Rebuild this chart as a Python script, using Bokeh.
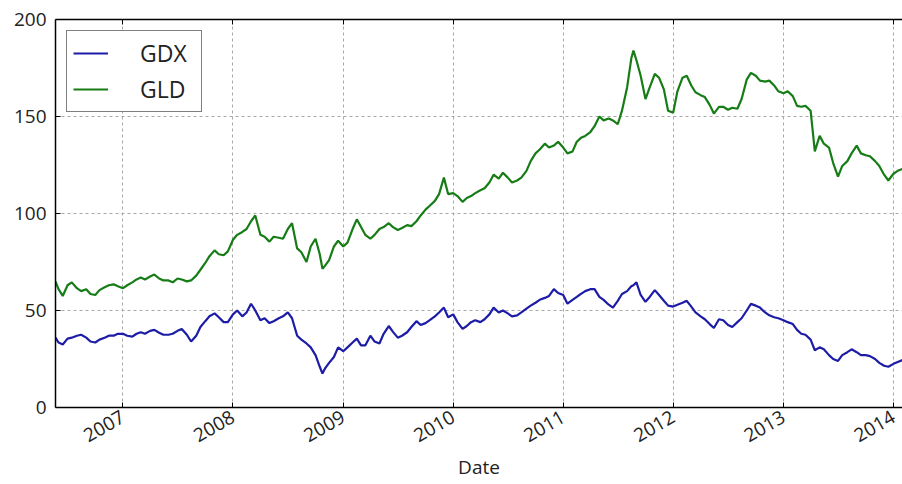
import math
import datetime as dtm
import pandas as pd
from bokeh.plotting import figure
from bokeh.models import (Range1d, FixedTicker, DatetimeTickFormatter, DatetimeAxis,
                          Legend, LegendItem, ColumnDataSource, CustomJSTickFormatter)
from bokeh.embed import file_html
from bokeh.resources import INLINE

# ---------------- data ----------------
dates = [
    "2006-05-22", "2006-06-01", "2006-06-15", "2006-07-01", "2006-07-15", "2006-08-01", "2006-08-15",
    "2006-09-01", "2006-09-15", "2006-10-01", "2006-10-15", "2006-11-01", "2006-11-15", "2006-12-01", "2006-12-15",
    "2007-01-01", "2007-01-15", "2007-02-01", "2007-02-15", "2007-03-01", "2007-03-15", "2007-04-01", "2007-04-15",
    "2007-05-01", "2007-05-15", "2007-06-01", "2007-06-15", "2007-07-01", "2007-07-15", "2007-08-01", "2007-08-15",
    "2007-09-01", "2007-09-15", "2007-10-01", "2007-10-15", "2007-11-01", "2007-11-15", "2007-12-01", "2007-12-15",
    "2008-01-01", "2008-01-15", "2008-02-01", "2008-02-15", "2008-03-01", "2008-03-15", "2008-04-01", "2008-04-15",
    "2008-05-01", "2008-05-15", "2008-06-01", "2008-06-15", "2008-07-01", "2008-07-15", "2008-08-01", "2008-08-15",
    "2008-09-01", "2008-09-15", "2008-10-01", "2008-10-15", "2008-10-24", "2008-11-01", "2008-11-15", "2008-12-01", "2008-12-15",
    "2009-01-01", "2009-01-15", "2009-02-01", "2009-02-15", "2009-03-01", "2009-03-15", "2009-04-01", "2009-04-15",
    "2009-05-01", "2009-05-15", "2009-06-01", "2009-06-15", "2009-07-01", "2009-07-15", "2009-08-01", "2009-08-15",
    "2009-09-01", "2009-09-15", "2009-10-01", "2009-10-15", "2009-11-01", "2009-11-15", "2009-12-01", "2009-12-15",
    "2010-01-01", "2010-01-15", "2010-02-01", "2010-02-15", "2010-03-01", "2010-03-15", "2010-04-01", "2010-04-15",
    "2010-05-01", "2010-05-15", "2010-06-01", "2010-06-15", "2010-07-01", "2010-07-15", "2010-08-01", "2010-08-15",
    "2010-09-01", "2010-09-15", "2010-10-01", "2010-10-15", "2010-11-01", "2010-11-15", "2010-12-01", "2010-12-15",
    "2011-01-01", "2011-01-15", "2011-02-01", "2011-02-15", "2011-03-01", "2011-03-15", "2011-04-01", "2011-04-15",
    "2011-05-01", "2011-05-15", "2011-06-01", "2011-06-15", "2011-07-01", "2011-07-15", "2011-08-01", "2011-08-15",
    "2011-08-22", "2011-09-01", "2011-09-15", "2011-10-01", "2011-10-15", "2011-11-01", "2011-11-15", "2011-12-01", "2011-12-15",
    "2012-01-01", "2012-01-15", "2012-02-01", "2012-02-15", "2012-03-01", "2012-03-15", "2012-04-01", "2012-04-15",
    "2012-05-01", "2012-05-15", "2012-06-01", "2012-06-15", "2012-07-01", "2012-07-15", "2012-08-01", "2012-08-15",
    "2012-09-01", "2012-09-15", "2012-10-01", "2012-10-15", "2012-11-01", "2012-11-15", "2012-12-01", "2012-12-15",
    "2013-01-01", "2013-01-15", "2013-02-01", "2013-02-15", "2013-03-01", "2013-03-15", "2013-04-01", "2013-04-15",
    "2013-05-01", "2013-05-15", "2013-06-01", "2013-06-15", "2013-07-01", "2013-07-15", "2013-08-01", "2013-08-15",
    "2013-09-01", "2013-09-15", "2013-10-01", "2013-10-15", "2013-11-01", "2013-11-15", "2013-12-01", "2013-12-15",
    "2014-01-01", "2014-01-15", "2014-02-01", "2014-02-15",
]

gld = [
    65, 61, 57.5, 63, 64.5, 61.5, 60, 61, 58.5, 58, 60.5, 62, 63, 63.5, 62.5,
    61.5, 63, 64.5, 66, 67, 66, 67.5, 68.5, 66.5, 65.5, 65.5, 64.5, 66.5, 66, 65, 65.5,
    68, 71, 74.5, 78, 81, 79, 78.5, 80.5,
    86.5, 89, 90.5, 92, 96, 99, 89, 88, 85.5, 88, 87.5, 87, 92, 95, 82, 80,
    75, 83, 87, 79, 71.5, 73, 76, 83, 86,
    83, 85, 92, 97, 93, 89, 87, 89, 92, 93, 95, 93, 91.5, 92.5, 94, 93.5,
    96, 99, 102, 104, 106.5, 110, 118.5, 110,
    110.5, 109, 106, 108, 109, 110.5, 112, 113, 116, 120, 118, 121, 118.5, 116, 117, 118.5,
    122, 127, 131, 133, 136, 134, 135, 137,
    134, 131, 132, 137, 139, 140, 142, 145, 150, 148, 149, 148, 146, 153, 165, 180,
    184, 179, 171, 159, 165, 172, 170, 164, 153,
    152, 163, 170, 171, 166, 162.5, 161, 160, 156, 151.5, 155, 155, 153.5, 154.5, 154, 159,
    169, 172.5, 171, 168.5, 168, 168.5, 166, 163,
    162, 163, 160.5, 155.5, 155, 155.5, 153, 132, 140, 136, 134, 126, 119, 124.5, 127, 131,
    135, 131, 130, 129.5, 127, 124.5, 120, 117,
    120.5, 122, 123, 124,
]

gdx = [
    36, 33.5, 32.5, 35.5, 36, 37, 37.5, 36, 34, 33.5, 35, 36, 37, 37, 38,
    38, 37, 36.5, 38, 38.8, 38, 39.5, 40, 38.5, 37.5, 37.5, 38, 39.5, 40.5, 37.5, 34,
    37, 41.5, 44.5, 47, 48.5, 46.5, 44, 44,
    48, 50, 47, 49, 53.5, 50, 45, 46, 43.5, 44.5, 46, 47, 49, 46, 37, 35,
    33, 31, 27, 21, 17.5, 20, 23, 26, 31,
    29, 31, 33.5, 35.5, 32, 32, 37, 34, 33, 38, 42, 39, 36, 37, 38.8, 41.5,
    44.5, 42.5, 43.5, 45, 47, 49, 51.5, 46.5,
    48, 44, 40.5, 42, 44, 45, 44, 45.5, 48, 51.5, 49, 50, 48.5, 47, 47.5, 49,
    51, 52.5, 54, 55.5, 56.5, 57.5, 61, 59,
    58, 53.5, 55.5, 57, 58.6, 60, 61, 61, 57, 55.5, 53, 51.5, 55, 58.5, 60, 62.5,
    63, 64.5, 58, 54.5, 57, 60.5, 58, 55, 52.5,
    52, 53, 54, 55, 52, 49, 47, 45.5, 43, 41, 45.5, 45, 42.5, 41.5, 44, 46,
    50, 53.4, 52.5, 51.5, 49, 47.5, 46.5, 46,
    45, 44, 43, 40, 38, 37.5, 35, 29.5, 31, 30, 27, 25, 24, 27, 28.5, 30,
    28.5, 27, 27, 26.5, 25, 23, 21.5, 21,
    22.5, 23.5, 24.5, 25,
]

year_ticks = [2007, 2008, 2009, 2010, 2011, 2012, 2013, 2014]
y_ticks = [0, 50, 100, 150, 200]
series_names = ["GDX", "GLD"]
x_label = "Date"
x_start, x_end = "2006-05-22", "2014-01-31"

# ---------------- plot ----------------
src = ColumnDataSource(dict(date=pd.to_datetime(dates), gdx=gdx, gld=gld))

FONT = "Open Sans"
p = figure(width=902, height=484, x_axis_type="datetime",
           output_backend="svg", toolbar_location=None,
           x_range=Range1d(dtm.datetime.fromisoformat(x_start), dtm.datetime.fromisoformat(x_end)),
           y_range=Range1d(0, 200),
           min_border_left=55, min_border_right=0, min_border_top=19, min_border_bottom=77)
p.outline_line_color = None
p.background_fill_color = "white"
p.border_fill_color = "white"

bottom = p.below[0]
left = p.left[0]

xticker = FixedTicker(ticks=[pd.Timestamp(f"{y}-01-01").value // 10**6 for y in year_ticks])
fmt = DatetimeTickFormatter(years="%Y", months="%Y", days="%Y", hours="%Y")

top = DatetimeAxis(ticker=xticker, formatter=CustomJSTickFormatter(code="return ''"))
p.add_layout(top, "above")

for ax in (bottom, left, top):
    ax.axis_line_color = "black"
    ax.axis_line_width = 1.5
    ax.major_tick_in = 5
    ax.major_tick_out = 0
    ax.minor_tick_in = 0
    ax.minor_tick_out = 0
    ax.major_tick_line_color = "black"
    ax.major_tick_line_width = 1
    ax.major_label_text_font = FONT
    ax.major_label_text_font_size = "19px"
    ax.major_label_text_color = "#222222"

top.major_label_standoff = 0

bottom.ticker = xticker
bottom.formatter = fmt
bottom.major_label_orientation = math.pi / 6
bottom.major_label_standoff = 8
bottom.axis_label = x_label
bottom.axis_label_text_font = FONT
bottom.axis_label_text_font_size = "19px"
bottom.axis_label_text_font_style = "normal"
bottom.axis_label_text_color = "#222222"
bottom.axis_label_standoff = 3

left.ticker = FixedTicker(ticks=y_ticks)
left.major_label_standoff = 9

for g in p.grid:
    if g.dimension == 0:
        g.ticker = xticker
    g.grid_line_color = "#a8a8a8"
    g.grid_line_dash = "3 3"
    g.grid_line_width = 1

r_gdx = p.line("date", "gdx", source=src, line_color="#1c1ca6", line_width=2.2)
r_gld = p.line("date", "gld", source=src, line_color="#167d16", line_width=2.2)

legend = Legend(items=[LegendItem(label=series_names[0], renderers=[r_gdx]),
                       LegendItem(label=series_names[1], renderers=[r_gld])],
                location="top_left", margin=11, padding=6, spacing=4,
                glyph_width=35, glyph_height=28, label_standoff=32, label_width=55,
                label_text_font=FONT, label_text_font_size="23px",
                label_text_color="#222222",
                border_line_color="black", border_line_width=1.5,
                background_fill_color="white", background_fill_alpha=1)
p.add_layout(legend)

open("out.html", "w").write(file_html(p, INLINE))
